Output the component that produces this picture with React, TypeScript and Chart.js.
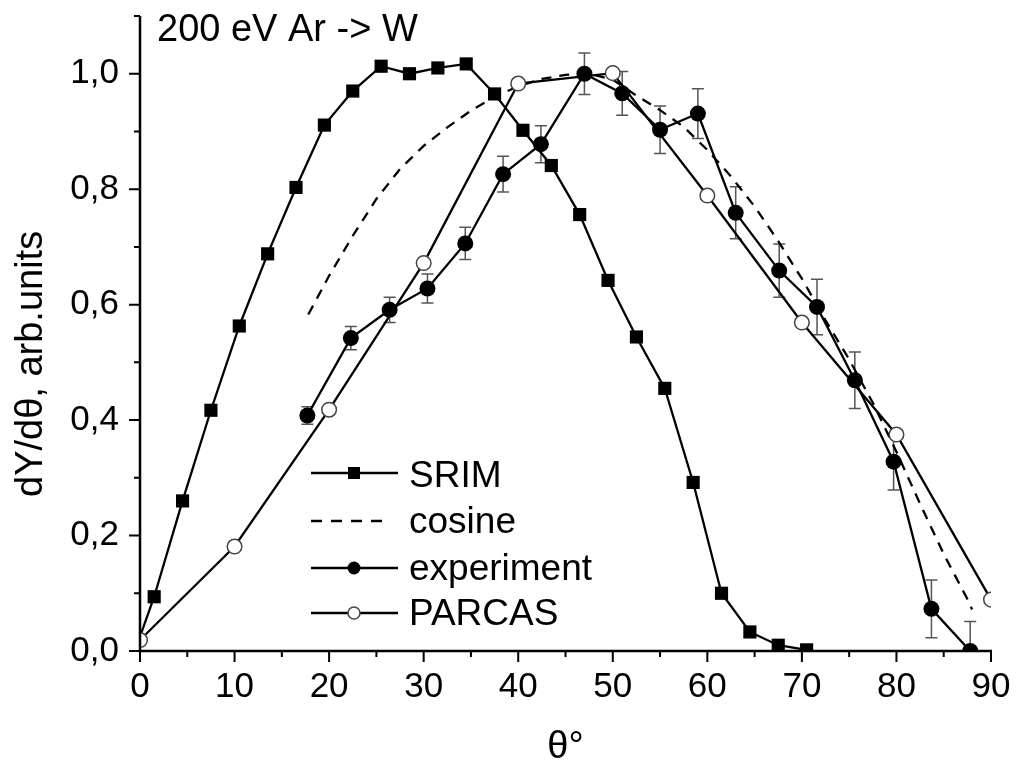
import React, { useEffect, useRef } from 'react';
import { Chart, registerables } from 'chart.js';

Chart.register(...registerables);

// ---- data ----
const srimX = [0, 1.5, 4.5, 7.5, 10.5, 13.5, 16.5, 19.5, 22.5, 25.5, 28.5, 31.5, 34.5, 37.5, 40.5, 43.5, 46.5, 49.5, 52.5, 55.5, 58.5, 61.5, 64.5, 67.5, 70.5];
const srimY = [0.025, 0.094, 0.26, 0.417, 0.563, 0.688, 0.803, 0.911, 0.97, 1.013, 1.0, 1.01, 1.017, 0.965, 0.902, 0.841, 0.756, 0.642, 0.544, 0.455, 0.292, 0.1, 0.033, 0.01, 0.002];

const cosX = [17.8, 20, 22.5, 25, 27.5, 30, 32.5, 35, 37.5, 40, 42.5, 45, 47.5, 50, 52.5, 55, 57.5, 60, 62.5, 65, 67.5, 70, 72.5, 75, 77.5, 80, 82.5, 85, 87.5, 88];
const cosY = [0.583, 0.65, 0.719, 0.783, 0.835, 0.875, 0.907, 0.936, 0.96, 0.978, 0.991, 0.998, 1.0, 0.99, 0.962, 0.937, 0.908, 0.868, 0.822, 0.77, 0.71, 0.645, 0.573, 0.505, 0.43, 0.345, 0.255, 0.168, 0.09, 0.072];

const expX = [17.7, 22.3, 26.4, 30.4, 34.4, 38.4, 42.4, 47.0, 51.0, 55.0, 59.0, 63.0, 67.6, 71.6, 75.6, 79.7, 83.7, 87.8];
const expY = [0.408, 0.542, 0.591, 0.628, 0.706, 0.826, 0.878, 1.0, 0.966, 0.903, 0.931, 0.759, 0.659, 0.596, 0.469, 0.328, 0.073, 0.0];
const expErr = [0.015, 0.02, 0.022, 0.025, 0.028, 0.031, 0.032, 0.036, 0.038, 0.041, 0.043, 0.045, 0.046, 0.048, 0.049, 0.049, 0.05, 0.051];

const parX = [0, 10, 20, 30, 40, 50, 60, 70, 80, 90];
const parY = [0.019, 0.181, 0.418, 0.672, 0.983, 1.001, 0.789, 0.569, 0.375, 0.089];

const xMajor = [0, 10, 20, 30, 40, 50, 60, 70, 80, 90];
const xMinor = [5, 15, 25, 35, 45, 55, 65, 75, 85];
const yMajor = [0, 0.2, 0.4, 0.6, 0.8, 1.0];
const yMinor = [0.1, 0.3, 0.5, 0.7, 0.9, 1.1];

const seriesNames = ['SRIM', 'cosine', 'experiment', 'PARCAS'];
const chartTitle = '200 eV Ar -> W';
const xTitle = 'θ°';
const yTitle = 'dY/dθ, arb.units';

const FONT = '"Liberation Sans", Arial, sans-serif';
const LW = 2.3;

const pts = (xs: number[], ys: number[]) => xs.map((x, i) => ({ x, y: ys[i] }));

export default function App() {
  const ref = useRef<HTMLCanvasElement>(null);

  useEffect(() => {
    if (!ref.current) return;

    const errorBars = {
      id: 'errorBars',
      beforeDatasetsDraw(chart: any) {
        const { ctx, chartArea, scales } = chart;
        const xs = scales.x, ys = scales.y;
        ctx.save();
        ctx.beginPath();
        ctx.rect(chartArea.left, chartArea.top, chartArea.right - chartArea.left, chartArea.bottom - chartArea.top);
        ctx.clip();
        ctx.strokeStyle = '#555';
        ctx.lineWidth = 1.5;
        expX.forEach((x, i) => {
          const px = xs.getPixelForValue(x);
          const top = ys.getPixelForValue(expY[i] + expErr[i]);
          const bot = ys.getPixelForValue(expY[i] - expErr[i]);
          ctx.beginPath();
          ctx.moveTo(px, top); ctx.lineTo(px, bot);
          ctx.moveTo(px - 6, top); ctx.lineTo(px + 6, top);
          ctx.moveTo(px - 6, bot); ctx.lineTo(px + 6, bot);
          ctx.stroke();
        });
        ctx.restore();
      },
    };

    const axesDraw = {
      id: 'axesDraw',
      afterDraw(chart: any) {
        const { ctx, chartArea, scales } = chart;
        const xs = scales.x, ys = scales.y;
        ctx.save();
        ctx.strokeStyle = '#000';
        ctx.lineWidth = 2.5;
        ctx.lineCap = 'butt';
        ctx.beginPath();
        ctx.moveTo(chartArea.left, chartArea.top);
        ctx.lineTo(chartArea.left, chartArea.bottom);
        ctx.moveTo(chartArea.left - 1.25, chartArea.bottom);
        ctx.lineTo(chartArea.right + 1, chartArea.bottom);
        ctx.stroke();
        ctx.lineWidth = 2;
        ctx.beginPath();
        xMajor.forEach(v => { const p = xs.getPixelForValue(v); ctx.moveTo(p, chartArea.bottom); ctx.lineTo(p, chartArea.bottom + 11); });
        xMinor.forEach(v => { const p = xs.getPixelForValue(v); ctx.moveTo(p, chartArea.bottom); ctx.lineTo(p, chartArea.bottom + 6); });
        yMajor.forEach(v => { const p = ys.getPixelForValue(v); ctx.moveTo(chartArea.left, p); ctx.lineTo(chartArea.left - 11, p); });
        yMinor.forEach(v => { const p = ys.getPixelForValue(v); ctx.moveTo(chartArea.left, p); ctx.lineTo(chartArea.left - 6, p); });
        ctx.stroke();

        // chart title
        ctx.fillStyle = '#000';
        ctx.font = `38px ${FONT}`;
        ctx.textAlign = 'left';
        ctx.textBaseline = 'alphabetic';
        ctx.fillText(chartTitle, 157, 41);

        // y axis title (rotated)
        ctx.save();
        ctx.translate(42, 497);
        ctx.rotate(-Math.PI / 2);
        ctx.font = `38px ${FONT}`;
        ctx.textAlign = 'left';
        ctx.textBaseline = 'alphabetic';
        ctx.fillText(yTitle, 0, 0);
        ctx.restore();

        // legend
        const rowsY = [473, 521, 568, 613];
        const baseY = [487, 533, 580, 625];
        const x0 = 311, x1 = 398, xm = 354, tx = 409;
        ctx.font = `37px ${FONT}`;
        seriesNames.forEach((name, i) => {
          const y = rowsY[i];
          ctx.strokeStyle = '#000';
          ctx.lineWidth = LW;
          ctx.beginPath();
          if (i === 1) {
            ctx.setLineDash([11, 9]);
            ctx.moveTo(x0, y); ctx.lineTo(x1 - 8, y);
            ctx.stroke();
            ctx.setLineDash([]);
          } else {
            ctx.moveTo(x0, y); ctx.lineTo(x1, y);
            ctx.stroke();
          }
          if (i === 0) {
            ctx.fillStyle = '#000';
            ctx.fillRect(xm - 6, y - 6, 12, 12);
          } else if (i === 2) {
            ctx.fillStyle = '#000';
            ctx.beginPath(); ctx.arc(xm, y, 6.5, 0, Math.PI * 2); ctx.fill();
          } else if (i === 3) {
            ctx.fillStyle = '#fff';
            ctx.strokeStyle = '#444';
            ctx.lineWidth = 1.5;
            ctx.beginPath(); ctx.arc(xm, y, 6, 0, Math.PI * 2); ctx.fill(); ctx.stroke();
          }
          ctx.fillStyle = '#000';
          ctx.fillText(name, tx, baseY[i]);
        });
        ctx.restore();
      },
    };

    const chart = new Chart(ref.current, {
      type: 'line',
      data: {
        datasets: [
          {
            label: seriesNames[0], data: pts(srimX, srimY), order: 3,
            borderColor: '#000', borderWidth: LW, backgroundColor: '#000',
            pointStyle: 'rect',
            pointRadius: (c: any) => (c.raw && c.raw.x === 0 ? 0 : 9.3),
            pointBorderWidth: 0, pointBackgroundColor: '#000',
          },
          {
            label: seriesNames[1], data: pts(cosX, cosY), order: 2,
            borderColor: '#000', borderWidth: LW, borderDash: [10, 8], pointRadius: 0,
          },
          {
            label: seriesNames[2], data: pts(expX, expY), order: 1,
            borderColor: '#000', borderWidth: LW, backgroundColor: '#000',
            pointStyle: 'circle', pointRadius: 8, pointBorderWidth: 0, pointBackgroundColor: '#000',
          },
          {
            label: seriesNames[3], data: pts(parX, parY), order: 0,
            borderColor: '#000', borderWidth: LW,
            pointStyle: 'circle', pointRadius: 7.3, pointBorderWidth: 1.5,
            pointBorderColor: '#444', pointBackgroundColor: '#fff',
          },
        ],
      } as any,
      options: {
        animation: false,
        responsive: false,
        devicePixelRatio: 1,
        layout: { padding: { top: 16, right: 28, left: 0, bottom: 0 } },
        plugins: { legend: { display: false }, tooltip: { enabled: false } },
        elements: { line: { tension: 0 } },
        scales: {
          x: {
            type: 'linear', min: 0, max: 90,
            afterBuildTicks: (s: any) => { s.ticks = xMajor.map(v => ({ value: v })); },
            afterFit: (s: any) => { s.height = 125; s.paddingLeft = 0; s.paddingRight = 0; },
            grid: { display: false, drawTicks: false },
            border: { display: false },
            ticks: { padding: 15, color: '#000', font: { size: 35, family: FONT }, maxRotation: 0, autoSkip: false },
            title: { display: true, text: xTitle, color: '#000', font: { size: 38, family: FONT }, padding: { top: 0, bottom: 6 } },
          },
          y: {
            type: 'linear', min: 0, max: 1.1,
            afterBuildTicks: (s: any) => { s.ticks = yMajor.map(v => ({ value: v })); },
            afterFit: (s: any) => { s.width = 140; s.paddingTop = 0; s.paddingBottom = 0; },
            grid: { display: false, drawTicks: false },
            border: { display: false },
            ticks: {
              padding: 21, color: '#000', font: { size: 35, family: FONT },
              callback: (v: any) => Number(v).toFixed(1).replace('.', ','),
            },
            title: { display: false },
          },
        },
      } as any,
      plugins: [errorBars, axesDraw],
    });

    return () => chart.destroy();
  }, []);

  return (
    <div style={{ position: 'absolute', left: 0, top: 0, width: 1019, height: 776, background: '#fff' }}>
      <canvas ref={ref} width={1019} height={776} aria-label={`${chartTitle}; x: ${xTitle}; y: ${yTitle}`} />
    </div>
  );
}
